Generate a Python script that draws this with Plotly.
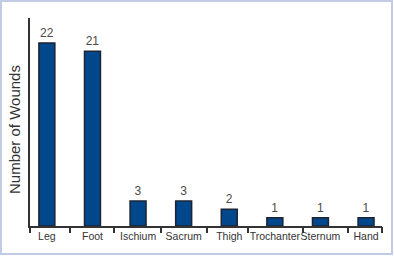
import plotly.graph_objects as go

categories = ["Leg", "Foot", "Ischium", "Sacrum", "Thigh", "Trochanter", "Sternum", "Hand"]
wounds = [22, 21, 3, 3, 2, 1, 1, 1]
# separator tick marks between category labels (in category-index units)
separators = [-0.37, 0.5, 1.47, 2.5, 3.51, 4.41, 5.61, 6.6, 7.35]
y_max = 25

idx = list(range(len(categories)))

W, H = 394, 257
ml, mr, mt, mb = 30, 12, 18, 31
pw, ph = W - ml - mr, H - mt - mb

fig = go.Figure()
fig.add_trace(go.Bar(
    x=idx, y=wounds, width=0.35,
    marker=dict(color="#00478c", line=dict(color="#1c2433", width=1.5)),
    text=[str(v) for v in wounds], textposition="outside",
    textfont=dict(family="Liberation Sans, Arial", size=12, color="#4a4a4a"),
    cliponaxis=False, showlegend=False, hoverinfo="skip",
))
# invisible trace to activate the separator-tick axis
fig.add_trace(go.Scatter(x=[separators[0]], y=[0], xaxis="x2", mode="markers",
                         marker=dict(opacity=0), showlegend=False, hoverinfo="skip"))

fig.update_layout(
    width=W, height=H,
    margin=dict(l=ml, r=mr, t=mt, b=mb, pad=0, autoexpand=False),
    paper_bgcolor="white", plot_bgcolor="white",
    xaxis=dict(range=[separators[0], separators[-1]], tickvals=idx, ticktext=categories,
               tickangle=0, automargin=False,
               showline=True, linecolor="#333333", linewidth=1.5, ticks="",
               showgrid=False, zeroline=False,
               tickfont=dict(family="Liberation Sans, Arial", size=10.5, color="#333333")),
    xaxis2=dict(overlaying="x", matches="x", side="bottom", tickvals=separators,
                automargin=False,
                ticks="outside", ticklen=6, tickwidth=1.5, tickcolor="#333333",
                showticklabels=False, showline=False, showgrid=False, zeroline=False),
    yaxis=dict(range=[0, y_max], showline=True, linecolor="#333333", linewidth=1.5,
               automargin=False,
               showticklabels=False, ticks="", showgrid=False, zeroline=False),
    shapes=[dict(type="rect", xref="paper", yref="paper",
                 x0=(1 - ml) / pw, x1=(392 - ml) / pw,
                 y0=(H - mb - 254) / ph, y1=(H - mb - 1) / ph,
                 line=dict(color="#c2cbe6", width=2), fillcolor="rgba(0,0,0,0)", layer="below")],
    annotations=[dict(text="Number of Wounds", xref="paper", yref="paper",
                      x=(14 - ml) / pw, y=(H - mb - 130) / ph, textangle=-90,
                      showarrow=False, xanchor="center", yanchor="middle",
                      font=dict(family="Liberation Sans, Arial", size=15, color="#333333"))],
)

fig.write_html("out.html")
